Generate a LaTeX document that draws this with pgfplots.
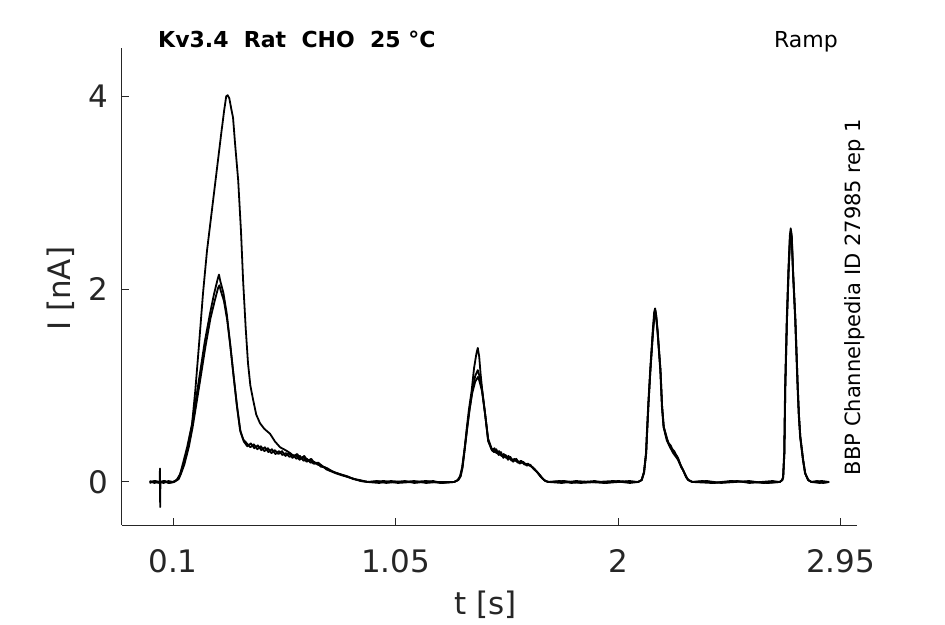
\documentclass[border=0pt]{standalone}
\usepackage{pgfplots}
\pgfplotsset{compat=1.18}
\usepackage{fontspec}
\setmainfont{DejaVu Sans}
\definecolor{axgray}{HTML}{262626}
\pgfplotsset{tr/.style={black, line width=1.8pt, line join=round, no markers}}
\begin{document}
\begin{tikzpicture}[x=1pt,y=1pt]
\path[use as bounding box] (0,0) rectangle (945,624);
\begin{axis}[
  at={(122pt,99pt)}, anchor=south west,
  scale only axis, width=735pt, height=477pt,
  xmin=-0.118, xmax=3.02, ymin=-0.446, ymax=4.50,
  axis x line*=bottom, axis y line*=left,
  axis line style={axgray, line width=1pt, -},
  tick align=inside,
  xtick={0.1,1.05,2,2.95}, xticklabels={0.1,1.05,2,2.95},
  ytick={0,2,4}, yticklabels={0,2,4},
  tick style={axgray, line width=1pt},
  major tick length=7pt,
  xticklabel style={font=\fontsize{31}{31}\selectfont, text=axgray, anchor=base, yshift=-47pt},
  yticklabel style={font=\fontsize{31}{31}\selectfont, text=axgray, inner sep=0pt, anchor=east, xshift=-14pt},
  xlabel={t [s]}, ylabel={I [nA]},
  xlabel style={font=\fontsize{31}{31}\selectfont, text=axgray, at={(axis description cs:0.495,-0.188)}, anchor=base},
  ylabel style={font=\fontsize{31}{31}\selectfont, text=axgray, at={(axis description cs:-0.0694,0.495)}, anchor=base, rotate=0},
  clip=false,
]
% Trace A (largest first peak)
\addplot[tr] coordinates {(0.000,0.00) (0.020,0.01) (0.038,-0.01) (0.043,0.00) (0.044,0.14) (0.045,-0.26) (0.046,0.00) (0.060,0.01) (0.080,-0.01) (0.100,0.00) (0.115,0.02) (0.130,0.08) (0.143,0.20) (0.160,0.36) (0.181,0.60) (0.195,0.95) (0.210,1.40) (0.228,1.96) (0.245,2.40) (0.260,2.70) (0.275,3.00) (0.292,3.34) (0.305,3.60) (0.318,3.85) (0.327,4.00) (0.333,4.01) (0.340,3.98) (0.350,3.85) (0.356,3.78) (0.365,3.50) (0.378,3.13) (0.390,2.60) (0.399,2.09) (0.410,1.60) (0.420,1.23) (0.430,1.00) (0.442,0.85) (0.455,0.70) (0.471,0.61) (0.490,0.55) (0.514,0.50) (0.535,0.42) (0.557,0.36) (0.580,0.33) (0.600,0.30) (0.615,0.27) (0.630,0.29) (0.645,0.24) (0.660,0.27) (0.675,0.22) (0.690,0.24) (0.705,0.19) (0.720,0.20) (0.740,0.16) (0.760,0.14) (0.780,0.11) (0.800,0.09) (0.825,0.07) (0.850,0.05) (0.875,0.03) (0.900,0.01) (0.930,0.00) (0.970,0.01) (1.010,-0.01) (1.050,0.00) (1.090,0.01) (1.130,-0.01) (1.170,0.00) (1.210,0.01) (1.250,-0.01) (1.300,0.00) (1.315,0.02) (1.325,0.06) (1.334,0.15) (1.345,0.35) (1.354,0.56) (1.363,0.75) (1.375,0.95) (1.385,1.18) (1.395,1.33) (1.401,1.39) (1.407,1.30) (1.413,1.12) (1.420,0.95) (1.432,0.71) (1.445,0.45) (1.461,0.34) (1.475,0.31) (1.490,0.29) (1.509,0.27) (1.530,0.25) (1.552,0.23) (1.575,0.21) (1.594,0.20) (1.615,0.18) (1.637,0.15) (1.655,0.10) (1.667,0.07) (1.680,0.03) (1.690,0.01) (1.705,0.00) (1.750,0.01) (1.800,-0.01) (1.850,0.00) (1.900,0.01) (1.950,-0.01) (2.000,0.00) (2.050,0.01) (2.085,0.00) (2.100,0.02) (2.110,0.10) (2.119,0.30) (2.122,0.47) (2.129,0.82) (2.137,1.16) (2.148,1.57) (2.154,1.76) (2.158,1.80) (2.162,1.74) (2.168,1.57) (2.180,1.16) (2.187,0.78) (2.194,0.57) (2.208,0.43) (2.222,0.36) (2.235,0.30) (2.256,0.23) (2.270,0.15) (2.278,0.12) (2.290,0.05) (2.299,0.02) (2.316,0.00) (2.360,0.01) (2.410,-0.01) (2.460,0.00) (2.510,0.01) (2.560,-0.01) (2.610,0.00) (2.660,0.01) (2.690,0.00) (2.700,0.02) (2.704,0.05) (2.709,0.30) (2.713,0.99) (2.720,1.68) (2.727,2.20) (2.733,2.55) (2.737,2.63) (2.741,2.55) (2.746,2.20) (2.756,1.68) (2.766,0.99) (2.771,0.70) (2.777,0.47) (2.789,0.23) (2.798,0.09) (2.811,0.02) (2.825,0.00) (2.850,0.01) (2.875,-0.01) (2.901,0.00)};
% Trace B1
\addplot[tr] coordinates {(0.000,0.01) (0.020,-0.01) (0.040,0.00) (0.060,-0.01) (0.080,0.01) (0.100,0.00) (0.121,0.03) (0.130,0.08) (0.145,0.18) (0.164,0.37) (0.180,0.58) (0.194,0.80) (0.215,1.13) (0.235,1.45) (0.258,1.75) (0.275,1.95) (0.290,2.10) (0.296,2.15) (0.302,2.08) (0.315,1.96) (0.329,1.75) (0.343,1.45) (0.357,1.13) (0.372,0.80) (0.386,0.54) (0.400,0.44) (0.415,0.40) (0.430,0.36) (0.445,0.39) (0.460,0.34) (0.475,0.37) (0.490,0.32) (0.505,0.35) (0.520,0.30) (0.535,0.33) (0.550,0.29) (0.565,0.32) (0.580,0.27) (0.595,0.30) (0.610,0.25) (0.625,0.28) (0.640,0.23) (0.655,0.26) (0.670,0.21) (0.685,0.23) (0.700,0.19) (0.715,0.20) (0.730,0.16) (0.750,0.15) (0.770,0.12) (0.790,0.10) (0.815,0.08) (0.843,0.06) (0.870,0.03) (0.898,0.02) (0.930,0.00) (0.980,-0.01) (1.030,0.01) (1.080,0.00) (1.130,0.01) (1.180,-0.01) (1.230,0.00) (1.300,0.00) (1.318,0.02) (1.328,0.06) (1.336,0.15) (1.346,0.35) (1.356,0.56) (1.366,0.75) (1.378,0.95) (1.390,1.10) (1.401,1.16) (1.410,1.08) (1.418,0.98) (1.432,0.71) (1.445,0.43) (1.461,0.33) (1.470,0.31) (1.480,0.34) (1.490,0.28) (1.500,0.31) (1.510,0.25) (1.520,0.28) (1.530,0.23) (1.540,0.26) (1.552,0.21) (1.565,0.24) (1.580,0.19) (1.594,0.21) (1.610,0.17) (1.625,0.18) (1.637,0.14) (1.655,0.10) (1.667,0.06) (1.680,0.03) (1.690,0.01) (1.705,0.00) (1.760,-0.01) (1.820,0.01) (1.880,0.00) (1.940,-0.01) (2.000,0.01) (2.060,0.00) (2.085,0.00) (2.101,0.02) (2.111,0.10) (2.120,0.30) (2.123,0.47) (2.130,0.82) (2.138,1.16) (2.149,1.55) (2.155,1.72) (2.159,1.76) (2.163,1.70) (2.169,1.55) (2.181,1.16) (2.188,0.78) (2.195,0.57) (2.209,0.45) (2.216,0.40) (2.224,0.38) (2.232,0.34) (2.240,0.32) (2.248,0.28) (2.256,0.25) (2.268,0.17) (2.280,0.11) (2.292,0.05) (2.300,0.02) (2.318,0.00) (2.380,0.01) (2.440,-0.01) (2.500,0.00) (2.560,0.01) (2.620,-0.01) (2.690,0.00) (2.701,0.02) (2.705,0.05) (2.710,0.30) (2.714,0.99) (2.721,1.68) (2.728,2.18) (2.734,2.50) (2.738,2.58) (2.742,2.50) (2.747,2.18) (2.757,1.68) (2.767,0.99) (2.772,0.70) (2.778,0.47) (2.790,0.23) (2.799,0.09) (2.812,0.02) (2.826,0.00) (2.860,-0.01) (2.901,0.00)};
% Trace B2
\addplot[tr] coordinates {(0.000,-0.01) (0.025,0.01) (0.045,0.00) (0.065,0.01) (0.085,-0.01) (0.105,0.00) (0.124,0.03) (0.133,0.08) (0.148,0.18) (0.167,0.36) (0.183,0.56) (0.197,0.77) (0.218,1.09) (0.238,1.40) (0.260,1.70) (0.278,1.88) (0.292,2.01) (0.298,2.04) (0.304,1.98) (0.317,1.88) (0.331,1.68) (0.345,1.40) (0.359,1.09) (0.374,0.77) (0.388,0.52) (0.402,0.42) (0.417,0.37) (0.432,0.40) (0.447,0.35) (0.462,0.38) (0.477,0.33) (0.492,0.36) (0.507,0.31) (0.522,0.34) (0.537,0.29) (0.552,0.32) (0.567,0.28) (0.582,0.30) (0.597,0.26) (0.612,0.28) (0.627,0.24) (0.642,0.27) (0.657,0.22) (0.672,0.24) (0.687,0.20) (0.702,0.21) (0.717,0.18) (0.735,0.17) (0.755,0.13) (0.775,0.11) (0.795,0.09) (0.820,0.07) (0.848,0.05) (0.875,0.03) (0.905,0.01) (0.940,0.00) (1.000,0.01) (1.060,-0.01) (1.120,0.00) (1.180,0.01) (1.240,-0.01) (1.300,0.00) (1.317,0.02) (1.327,0.06) (1.335,0.15) (1.345,0.35) (1.355,0.55) (1.365,0.74) (1.377,0.92) (1.390,1.04) (1.402,1.09) (1.410,1.03) (1.419,0.94) (1.433,0.69) (1.446,0.42) (1.462,0.33) (1.472,0.35) (1.482,0.30) (1.492,0.32) (1.502,0.27) (1.512,0.29) (1.522,0.25) (1.532,0.27) (1.545,0.22) (1.558,0.24) (1.572,0.20) (1.586,0.22) (1.600,0.18) (1.615,0.19) (1.630,0.16) (1.645,0.13) (1.660,0.09) (1.672,0.05) (1.684,0.02) (1.700,0.00) (1.770,0.01) (1.840,-0.01) (1.910,0.00) (1.980,0.01) (2.050,-0.01) (2.086,0.00) (2.101,0.02) (2.111,0.10) (2.120,0.30) (2.123,0.47) (2.130,0.82) (2.138,1.16) (2.149,1.56) (2.155,1.74) (2.159,1.78) (2.163,1.72) (2.169,1.56) (2.181,1.16) (2.188,0.78) (2.195,0.57) (2.209,0.44) (2.223,0.36) (2.236,0.31) (2.250,0.27) (2.258,0.22) (2.272,0.15) (2.282,0.10) (2.294,0.04) (2.301,0.02) (2.318,0.00) (2.400,-0.01) (2.480,0.01) (2.560,0.00) (2.640,-0.01) (2.690,0.00) (2.701,0.02) (2.705,0.05) (2.710,0.30) (2.714,0.99) (2.721,1.68) (2.728,2.19) (2.734,2.53) (2.738,2.61) (2.742,2.53) (2.747,2.19) (2.757,1.68) (2.767,0.99) (2.772,0.70) (2.778,0.47) (2.790,0.23) (2.799,0.09) (2.812,0.02) (2.826,0.00) (2.870,0.01) (2.901,0.00)};
\node[anchor=base west, inner sep=0pt, font=\fontsize{22}{22}\selectfont\bfseries] at (rel axis cs:0.049,1) {Kv3.4\ \ Rat\ \ CHO\ \ 25 °C};
\node[anchor=base east, inner sep=0pt, font=\fontsize{22}{22}\selectfont] at (rel axis cs:0.974,1) {Ramp};
\node[rotate=90, anchor=base west, inner sep=0pt, font=\fontsize{21}{21}\selectfont] at (axis cs:3.035,0.07) {BBP Channelpedia ID 27985 rep 1};
\end{axis}
\end{tikzpicture}
\end{document}
